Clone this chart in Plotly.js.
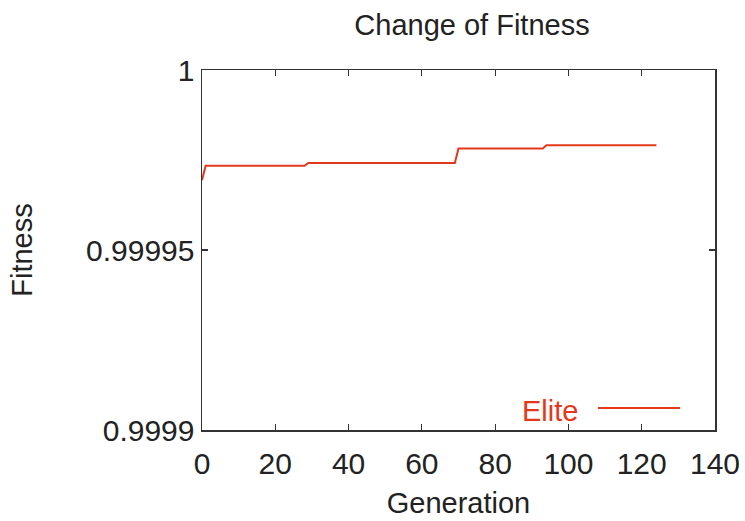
<!DOCTYPE html>
<html>
<head>
<meta charset="utf-8">
<script src="https://cdn.plot.ly/plotly-3.0.1.min.js"></script>
<style>html,body{margin:0;padding:0;background:#fff;}#chart{width:745px;height:521px;}</style>
</head>
<body>
<div id="chart"></div>
<script>
const generations = [0, 1, 28, 29, 69, 70, 93, 94, 124];
const eliteFitness = [0.9999694, 0.9999734, 0.9999734, 0.9999742, 0.9999742, 0.9999782, 0.9999782, 0.9999791, 0.9999791];
const seriesName = 'Elite';
const xTicks = [0, 20, 40, 60, 80, 100, 120, 140];
const yTicks = [0.9999, 0.99995, 1];
const yTickLabels = ['0.9999', '0.99995', '1'];

const red = '#e4381c';
const font = 'Liberation Sans, Arial, Helvetica, sans-serif';

const trace = {
  x: generations, y: eliteFitness, mode: 'lines', name: seriesName,
  line: {color: red, width: 2}, showlegend: false, hoverinfo: 'skip'
};

const axisCommon = {
  showgrid: false, zeroline: false, showline: true, linecolor: '#333', linewidth: 1.5,
  mirror: 'ticks', ticks: 'inside', ticklen: 6, tickwidth: 1.2, tickcolor: '#333',
  tickfont: {family: font, size: 30, color: '#222'}, automargin: false
};

const layout = {
  width: 745, height: 521,
  margin: {l: 202, r: 30, t: 70, b: 91},
  paper_bgcolor: '#fff', plot_bgcolor: '#fff',
  title: {text: 'Change of Fitness', font: {family: font, size: 29, color: '#222'},
          x: 472/745, xanchor: 'center', xref: 'container', y: 1 - 25/521, yanchor: 'middle', yref: 'container'},
  xaxis: Object.assign({}, axisCommon, {
    range: [0, 140], tickvals: xTicks, ticktext: xTicks.map(String), ticklabelstandoff: 6,
    title: {text: 'Generation', font: {family: font, size: 29, color: '#222'}, standoff: 14}
  }),
  yaxis: Object.assign({}, axisCommon, {
    range: [0.9999, 1], tickvals: yTicks, ticktext: yTickLabels,
    title: {text: 'Fitness', font: {family: font, size: 29, color: '#222'}, standoff: 45}
  }),
  annotations: [{
    text: seriesName, xref: 'paper', yref: 'paper', x: (580 - 202) / 513, y: (430 - 411) / 360,
    xanchor: 'right', yanchor: 'middle', showarrow: false,
    font: {family: font, size: 29, color: red}
  }],
  shapes: [{
    type: 'line', xref: 'paper', yref: 'paper',
    x0: (598 - 202) / 513, x1: (680 - 202) / 513, y0: (430 - 408) / 360, y1: (430 - 408) / 360,
    line: {color: red, width: 2}
  }]
};

Plotly.newPlot('chart', [trace], layout, {displayModeBar: false, staticPlot: true});
</script>
</body>
</html>
